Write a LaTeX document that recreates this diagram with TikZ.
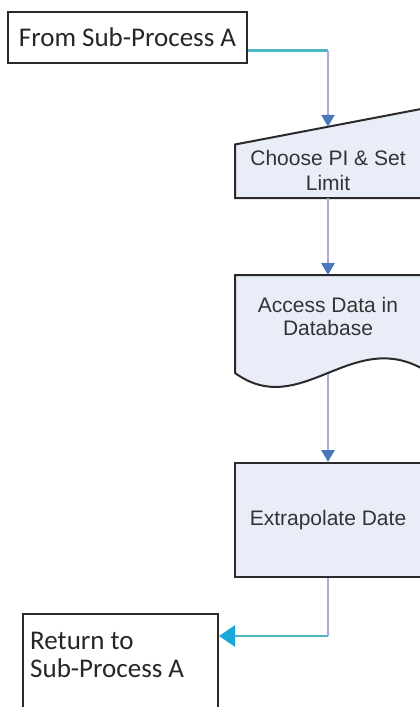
\documentclass[tikz,border=0pt]{standalone}
\usepackage{fontspec}
\newfontfamily\calibrifont{Carlito}
\newfontfamily\arialfont{Liberation Sans}
\usetikzlibrary{positioning, calc, arrows.meta}
\definecolor{shapefill}{HTML}{E9EDF8}
\definecolor{shapeline}{HTML}{2A2A2A}
\definecolor{vlinkcol}{HTML}{A9A9DC}
\definecolor{hlinkcol}{HTML}{4DB8C2}
\definecolor{tipblue}{HTML}{4A78B8}
\definecolor{tipcyan}{HTML}{1AA8D8}

\begin{document}
\begin{tikzpicture}[x=1pt, y=-1pt,
    termbox/.style={draw=shapeline, line width=2pt, fill=white, inner sep=0pt},
    termtext/.style={font=\calibrifont\fontsize{27}{28}\selectfont, text=black!85, inner sep=0pt},
    flowshape/.style={draw=shapeline, line width=2pt, fill=shapefill},
    flowtext/.style={font=\arialfont\fontsize{21}{24}\selectfont, text=black!80, align=center, inner sep=0pt},
    vlink/.style={draw=vlinkcol, line width=2.8pt},
    hlink/.style={draw=hlinkcol, line width=2.8pt},
    tipdown/.style={-{Triangle[length=12pt, width=13pt, color=tipblue]}},
    tipleft/.style={-{Triangle[length=16pt, width=21pt, color=tipcyan]}}]
    \useasboundingbox (0,0) rectangle (420,707);
    \clip (0,0) rectangle (420,707);

    \node[termbox, termtext, minimum width=239pt, minimum height=51pt] (from) at (127.5,37.5) {From Sub-Process A};
    \coordinate (fromout) at ([yshift=-13pt]from.east);

    \coordinate (c1) at (235,144.5);
    \coordinate (c2) at (421,109);
    \coordinate (c3) at (421,198);
    \coordinate (c4) at (235,198);
    \draw[flowshape] (c1) -- (c2) -- (c3) -- (c4) -- cycle;
    \coordinate (choosein) at ($(c1)!0.5!(c2)$);
    \coordinate (chooseout) at ($(c3)!0.5!(c4)$);
    \node[flowtext, font=\arialfont\fontsize{21}{25}\selectfont] (choose) at (328,170) {Choose PI \& Set\\Limit};

    \draw[flowshape] (235,275) -- (421,275) -- (421,368)
        .. controls (350,330) and (300,420) .. coordinate[pos=0.5] (docbot) (235,373) -- cycle;
    \coordinate (accessin) at (328,275);
    \node[flowtext, font=\arialfont\fontsize{21}{23}\selectfont] (access) at (328,316) {Access Data in\\Database};

    \node[flowshape, flowtext, minimum width=186pt, minimum height=114pt] (extra) at (328,520) {Extrapolate Date};

    \node[termbox, anchor=north west, minimum width=195pt, minimum height=140pt] (ret) at (22,613) {};
    \node[termtext, anchor=north west, align=left] (rettext) at ([xshift=8pt, yshift=-19pt]ret.north west) {Return to\\Sub-Process A};
    \coordinate (retin) at ([yshift=-23pt]ret.north east);

    \draw[hlink] (fromout) -- (fromout -| choosein);
    \draw[vlink, tipdown] (fromout -| choosein) -- (choosein);
    \draw[vlink, tipdown] (chooseout) -- (accessin);
    \draw[vlink, tipdown] (docbot -| access) -- (extra.north);
    \draw[vlink] (extra.south) -- (extra.south |- retin);
    \draw[hlink, tipleft] (extra.south |- retin) -- (retin);
\end{tikzpicture}
\end{document}
